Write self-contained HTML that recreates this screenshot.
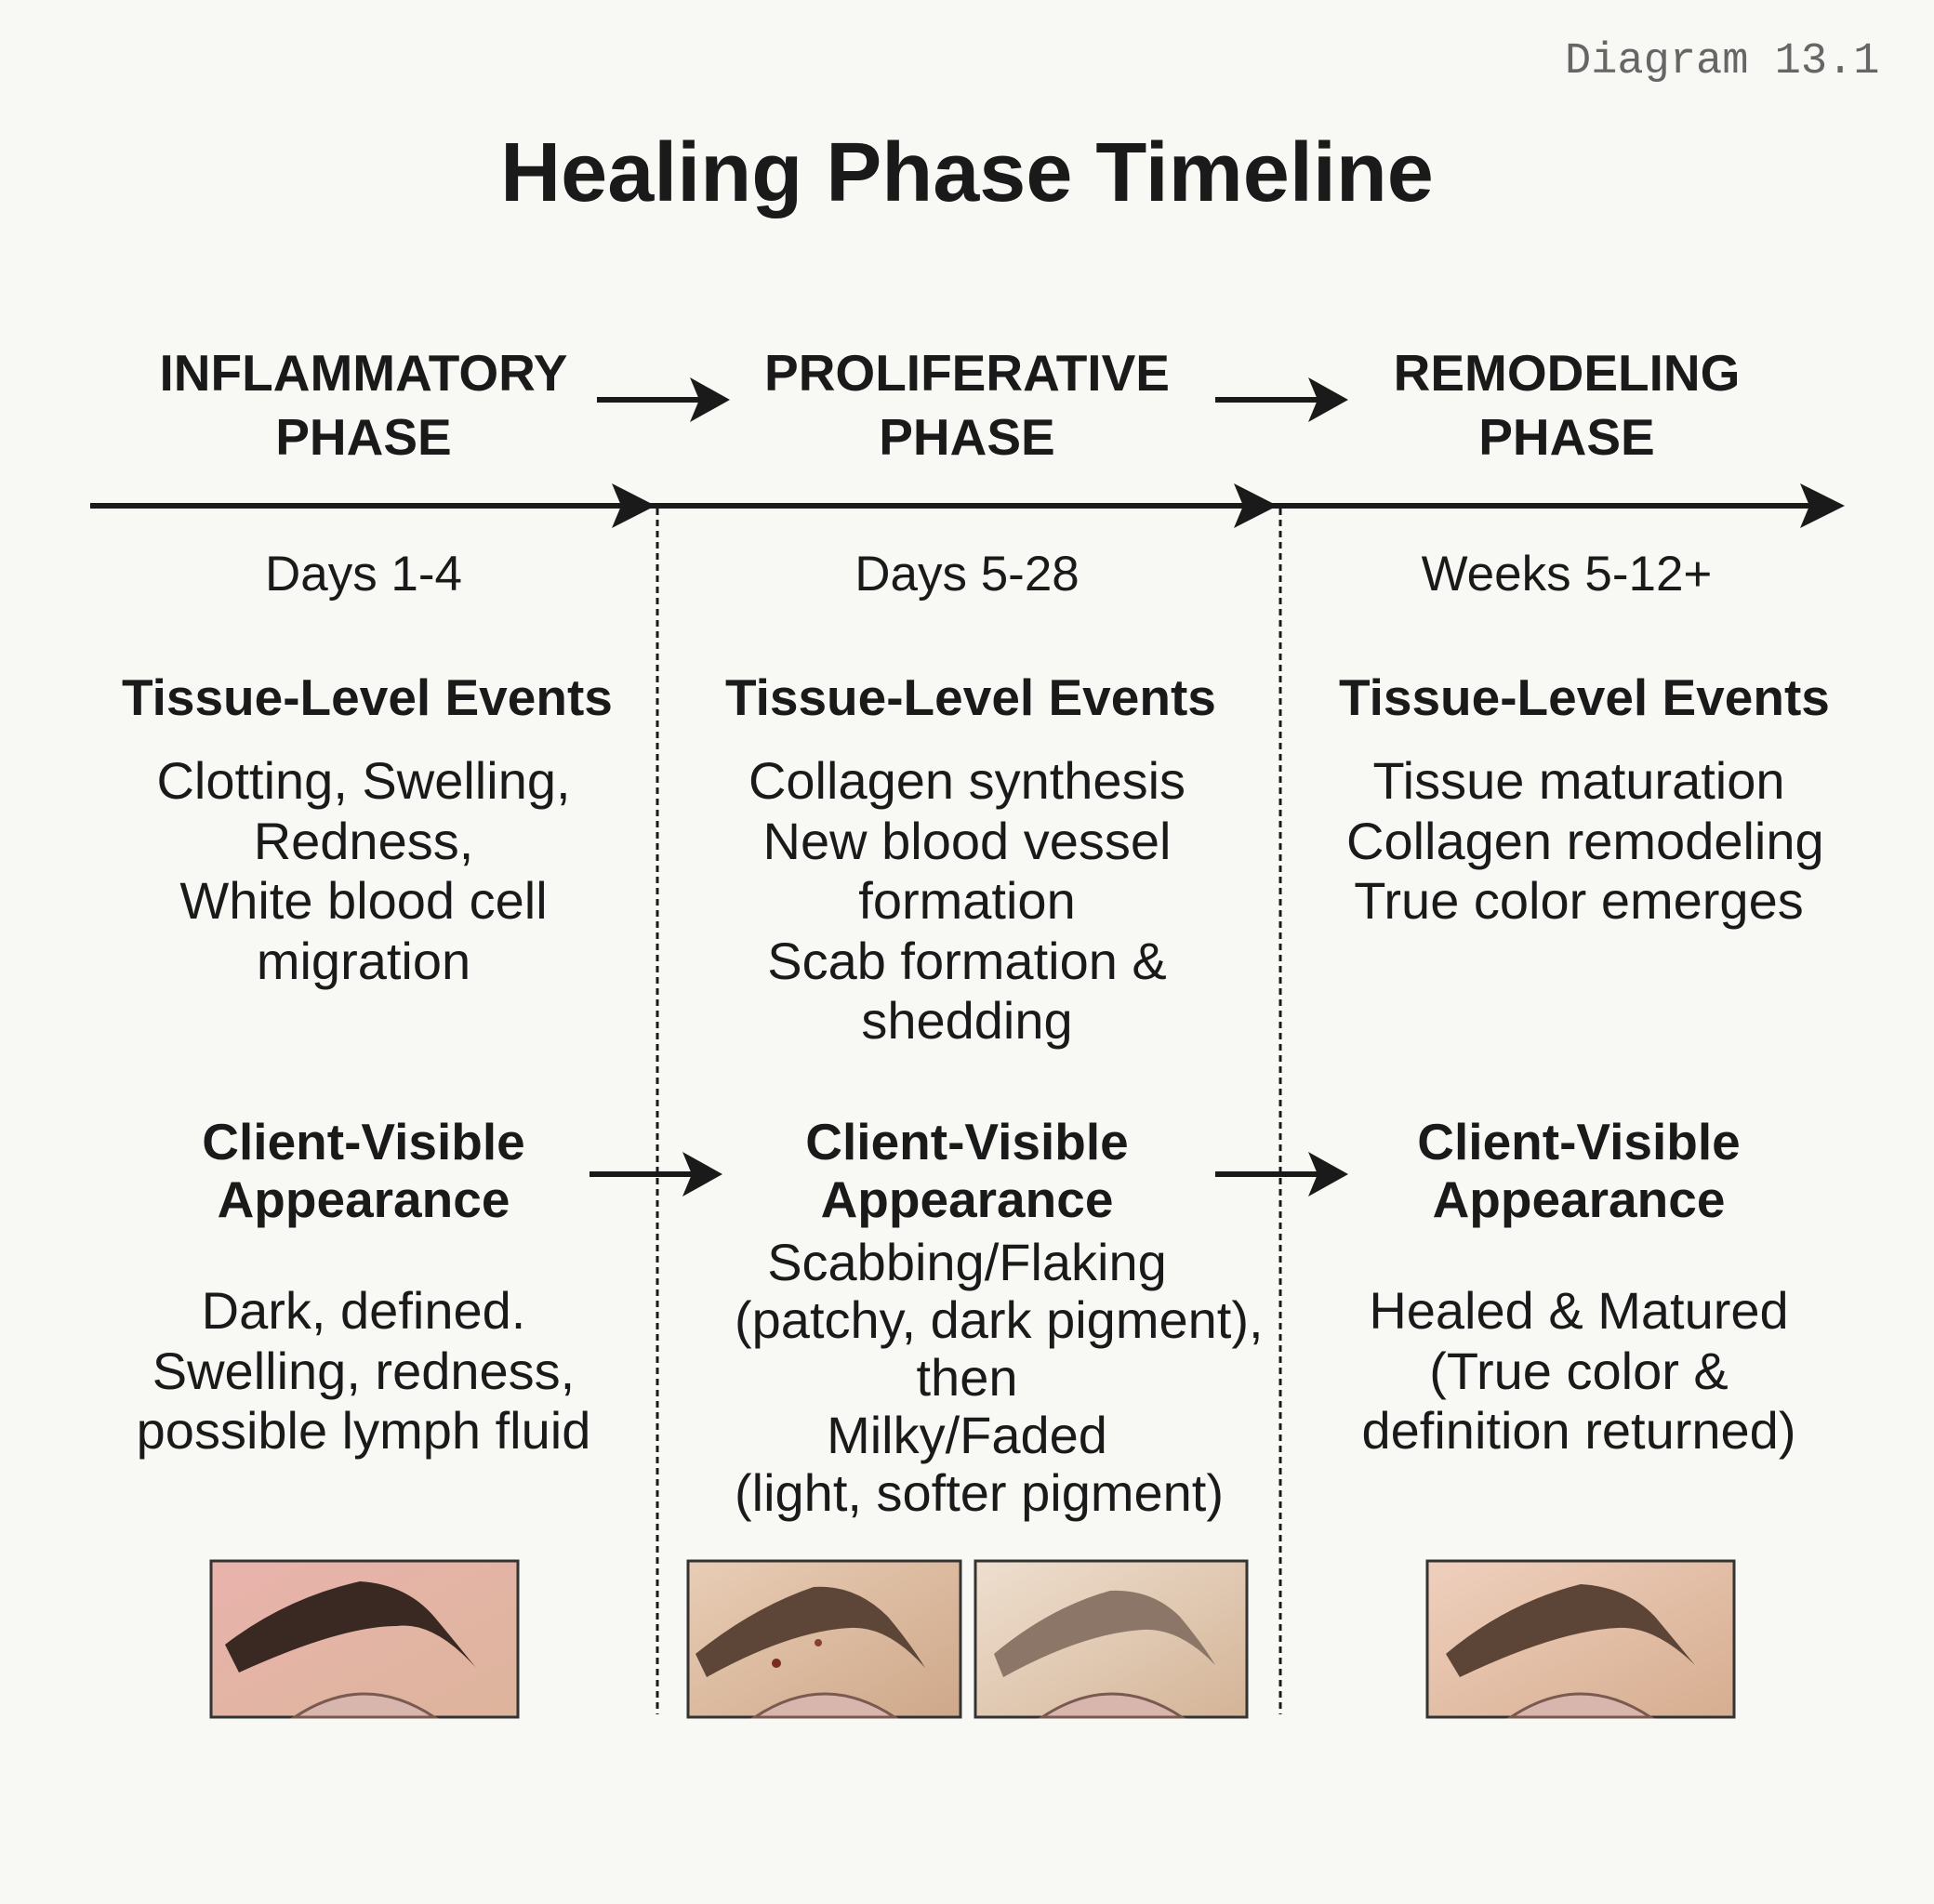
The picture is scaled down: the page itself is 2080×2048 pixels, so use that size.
<!DOCTYPE html>
<html><head><meta charset="utf-8"><style>
html,body{margin:0;padding:0}
body{width:2080px;height:2048px;background:#f8f8f5;position:relative;overflow:hidden;font-family:"Liberation Sans",Arial,sans-serif;color:#1a1a1a}
.t{position:absolute;text-align:center;white-space:nowrap}
.c1{left:141px;width:500px}
.c2{left:790px;width:500px}
.c3{left:1435px;width:500px}
.h{font-weight:bold;font-size:55px;line-height:69px}
.d{font-size:53px;line-height:60px}
.b{font-size:56px;line-height:64.5px}
.b2{font-size:56px;line-height:62px}
</style></head><body>
<div class="t" style="left:1683px;top:40px;font-family:'Liberation Mono',monospace;font-size:47px;color:#666;text-align:left">Diagram 13.1</div>
<div class="t" style="left:0;width:2080px;top:134px;font-weight:bold;font-size:90px;line-height:104px">Healing Phase Timeline</div>

<div class="t h c1" style="top:367px">INFLAMMATORY<br>PHASE</div>
<div class="t h c2" style="top:367px">PROLIFERATIVE<br>PHASE</div>
<div class="t h c3" style="top:367px">REMODELING<br>PHASE</div>

<svg style="position:absolute;left:0;top:0" width="2080" height="2048">
<g fill="#1a1a1a" stroke="#1a1a1a">
<line x1="642" y1="430" x2="770" y2="430" stroke-width="6"/><polygon points="742,406 785,430 742,454 752,430" stroke="none"/>
<line x1="1307" y1="430" x2="1435" y2="430" stroke-width="6"/><polygon points="1407,406 1450,430 1407,454 1417,430" stroke="none"/>
<line x1="97" y1="544" x2="1970" y2="544" stroke-width="6"/>
<polygon points="658,520 705,544 658,568 668,544" stroke="none"/>
<polygon points="1327,520 1374,544 1327,568 1337,544" stroke="none"/>
<polygon points="1936,520 1984,544 1936,568 1946,544" stroke="none"/>
<line x1="634" y1="1263" x2="762" y2="1263" stroke-width="6"/><polygon points="734,1239 777,1263 734,1287 744,1263" stroke="none"/>
<line x1="1307" y1="1263" x2="1435" y2="1263" stroke-width="6"/><polygon points="1407,1239 1450,1263 1407,1287 1417,1263" stroke="none"/>
<line x1="707" y1="547" x2="707" y2="1844" stroke-width="3" stroke-dasharray="7,5" fill="none"/>
<line x1="1377" y1="547" x2="1377" y2="1844" stroke-width="3" stroke-dasharray="7,5" fill="none"/>
</g>
<defs>
<linearGradient id="sk1" x1="0" y1="0" x2="1" y2="1"><stop offset="0" stop-color="#e9b3ac"/><stop offset="1" stop-color="#ddb49c"/></linearGradient>
<linearGradient id="sk2" x1="0" y1="0" x2="1" y2="1"><stop offset="0" stop-color="#e8cdb5"/><stop offset="1" stop-color="#cfa88a"/></linearGradient>
<linearGradient id="sk3" x1="0" y1="0" x2="1" y2="1"><stop offset="0" stop-color="#eedfcf"/><stop offset="1" stop-color="#d4b497"/></linearGradient>
<linearGradient id="sk4" x1="0" y1="0" x2="1" y2="1"><stop offset="0" stop-color="#efd0bd"/><stop offset="1" stop-color="#d6ad90"/></linearGradient>
<g id="eye"><path d="M90,168 Q165,118 240,168 Z" fill="#d8b6ad" stroke="#7a5a50" stroke-width="3"/></g>
</defs>
<g transform="translate(227,1679)">
<rect width="330" height="168" fill="url(#sk1)" stroke="#333" stroke-width="3"/>
<path d="M15,90 Q80,40 160,22 Q210,25 240,60 Q265,90 285,115 Q240,65 200,70 Q140,70 30,120 Z" fill="#3a2822"/>
<use href="#eye"/></g>
<g transform="translate(740,1679)">
<rect width="293" height="168" fill="url(#sk2)" stroke="#333" stroke-width="3"/>
<path d="M8,100 Q70,50 135,28 Q180,25 215,60 Q240,90 255,115 Q215,70 175,72 Q110,75 20,125 Z" fill="#5d4638"/>
<circle cx="95" cy="110" r="5" fill="#7a2a22"/><circle cx="140" cy="88" r="4" fill="#8a4030"/>
<use href="#eye" transform="translate(-18,0)"/></g>
<g transform="translate(1049,1679)">
<rect width="292" height="168" fill="url(#sk3)" stroke="#333" stroke-width="3"/>
<path d="M20,100 Q80,50 145,32 Q190,30 220,60 Q245,90 258,112 Q220,72 180,74 Q115,78 30,125 Z" fill="#8c7668"/>
<use href="#eye" transform="translate(-18,0)"/></g>
<g transform="translate(1535,1679)">
<rect width="330" height="168" fill="url(#sk4)" stroke="#333" stroke-width="3"/>
<path d="M20,100 Q85,45 165,25 Q215,28 245,60 Q270,90 288,112 Q245,70 205,72 Q140,75 35,125 Z" fill="#5c4436"/>
<use href="#eye"/></g>
</svg>

<div class="t d c1" style="top:588px">Days 1-4</div>
<div class="t d c2" style="top:588px">Days 5-28</div>
<div class="t d c3" style="top:588px">Weeks 5-12+</div>

<div class="t c1" style="top:718px;font-weight:bold;font-size:55px;line-height:64px;left:131px">Tissue-Level Events</div>
<div class="t c2" style="top:718px;font-weight:bold;font-size:55px;line-height:64px;left:780px">Tissue-Level Events</div>
<div class="t c3" style="top:718px;font-weight:bold;font-size:55px;line-height:64px;left:1440px">Tissue-Level Events</div>

<div class="t b c1" style="top:808px">Clotting, Swelling,<br>Redness,<br>White blood cell<br>migration</div>
<div class="t b c2" style="top:808px">Collagen synthesis<br>New blood vessel<br>formation<br>Scab formation &amp;<br>shedding</div>
<div class="t b c3" style="top:808px;left:1448px">Tissue maturation<br>Collagen remodeling<br>True color emerges</div>

<div class="t h c1" style="top:1197px;line-height:62px">Client-Visible<br>Appearance</div>
<div class="t h c2" style="top:1197px;line-height:62px">Client-Visible<br>Appearance</div>
<div class="t h c3" style="top:1197px;line-height:62px;left:1448px">Client-Visible<br>Appearance</div>

<div class="t b c1" style="top:1378px">Dark, defined.<br>Swelling, redness,<br>possible lymph fluid</div>
<div class="t b2 c2" style="top:1327px">Scabbing/Flaking<br>(patchy, dark pigment),<br>then<br>Milky/Faded<br>(light, softer pigment)</div>
<div class="t b c3" style="top:1378px;left:1448px">Healed &amp; Matured<br>(True color &amp;<br>definition returned)</div>
</body></html>
